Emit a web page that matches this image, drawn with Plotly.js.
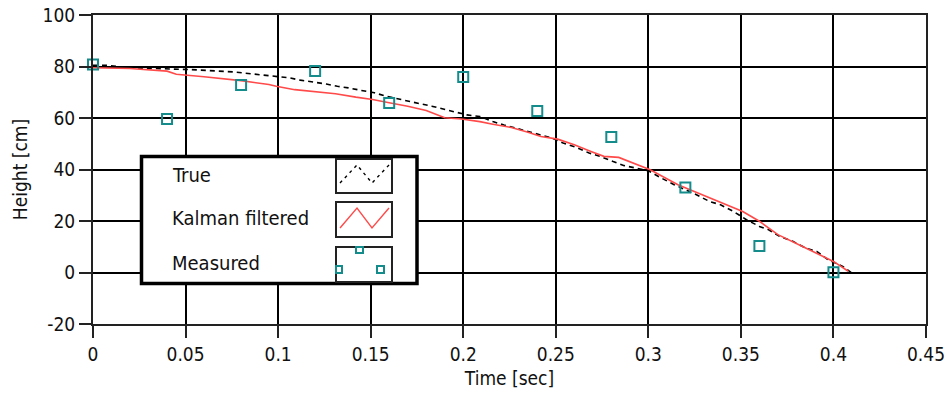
<!DOCTYPE html>
<html>
<head>
<meta charset="utf-8">
<script src="https://cdn.plot.ly/plotly-3.0.1.min.js"></script>
<style>html,body{margin:0;padding:0;background:#fff;}#chart{width:947px;height:394px;}</style>
</head>
<body>
<div id="chart"></div>
<script>
// ---- data ----
const trueTime = [0.000,0.007,0.020,0.053,0.076,0.093,0.106,0.112,0.119,0.126,0.132,0.138,0.145,0.152,0.158,0.165,0.170,0.177,0.183,0.190,0.197,0.202,0.209,0.216,0.222,0.228,0.235,0.241,0.248,0.254,0.261,0.268,0.274,0.281,0.287,0.293,0.300,0.307,0.314,0.326,0.333,0.339,0.346,0.353,0.360,0.365,0.371,0.378,0.385,0.391,0.397,0.405,0.411];
const trueHeight = [80.5,80.5,79.5,78.8,77.9,76.6,75.6,74.7,74.0,73.2,72.3,71.7,70.7,69.8,68.5,67.5,66.5,65.5,64.6,63.3,62.3,61.2,60.6,58.6,57.3,56.1,55.0,53.5,52.2,50.3,48.6,46.4,45.1,43.1,41.5,40.6,39.5,36.7,34.1,30.2,27.6,26.3,23.7,20.5,17.9,16.6,14.0,12.1,9.5,8.2,5.0,2.4,-0.8];

const kalmanTime = [0.000,0.020,0.040,0.045,0.060,0.080,0.095,0.099,0.109,0.120,0.131,0.142,0.151,0.160,0.170,0.180,0.190,0.199,0.209,0.216,0.226,0.235,0.242,0.251,0.260,0.269,0.276,0.284,0.292,0.301,0.316,0.335,0.351,0.360,0.370,0.385,0.400,0.408];
const kalmanHeight = [79.5,79.2,78.2,77.0,76.0,74.5,73.0,72.3,71.0,70.1,69.4,68.1,67.2,65.9,64.6,62.9,60.1,59.6,58.6,57.6,56.3,54.5,52.8,51.8,49.6,47.0,45.1,44.7,42.5,39.9,34.1,28.3,23.7,19.9,14.7,9.5,4.3,0.5];

const measuredTime = [0.00,0.04,0.08,0.12,0.16,0.20,0.24,0.28,0.32,0.36,0.40];
const measuredHeight = [80.8,59.6,72.8,78.3,65.8,75.9,62.7,52.6,33.0,10.3,0.1];

const xTickVals = [0,0.05,0.1,0.15,0.2,0.25,0.3,0.35,0.4,0.45];
const xTickText = ["0","0.05","0.1","0.15","0.2","0.25","0.3","0.35","0.4","0.45"];
const yTickVals = [-20,0,20,40,60,80,100];
const yTickText = ["-20","0","20","40","60","80","100"];
const legendLabels = ["True","Kalman filtered","Measured"];

// ---- styling / layout ----
const FONT = "'DejaVu Sans Condensed', 'DejaVu Sans', sans-serif";
const W = 947, H = 394, ML = 93, MR = 21, MT = 15, MB = 70;
const PW = W - ML - MR, PH = H - MT - MB;
const px = v => (v - ML) / PW;           // pixel x -> paper x
const py = v => (H - MB - v) / PH;       // pixel y -> paper y
const TEAL = '#148c8c', RED = '#ff4a4a';

const traces = [
  {x: trueTime, y: trueHeight, mode: 'lines', name: legendLabels[0],
   line: {color: '#000', width: 1.6, dash: '5px,4px'}},
  {x: kalmanTime, y: kalmanHeight, mode: 'lines', name: legendLabels[1],
   line: {color: RED, width: 1.6}},
  {x: measuredTime, y: measuredHeight, mode: 'markers', name: legendLabels[2],
   marker: {symbol: 'square-open', size: 10, color: TEAL, line: {width: 2, color: TEAL}},
   cliponaxis: false}
];

function rect(x0, y0, x1, y1, lw, lc, fill) {
  return {type: 'rect', xref: 'paper', yref: 'paper', x0: px(x0), x1: px(x1), y0: py(y1), y1: py(y0),
          line: {width: lw, color: lc}, fillcolor: fill || 'rgba(0,0,0,0)', layer: 'above'};
}
function path(pts, lc, lw, dash) {
  const d = pts.map((p, i) => (i ? 'L' : 'M') + px(p[0]) + ',' + py(p[1])).join(' ');
  return {type: 'path', xref: 'paper', yref: 'paper', path: d, line: {color: lc, width: lw, dash: dash || 'solid'}, layer: 'above'};
}

const shapes = [
  rect(141.5, 156.5, 417, 283.5, 3.5, '#000', '#fff'),
  rect(336, 159, 392, 193, 2, '#222', '#fff'),
  rect(336, 202, 392, 237, 2, '#222', '#fff'),
  rect(336, 247, 392, 282, 2, '#222', '#fff'),
  path([[340,183],[357,165],[372,183],[389,165]], '#000', 1.4, '3px,4px'),
  path([[340,228],[357,208],[372,228],[389,208]], RED, 1.4),
  rect(356, 247, 363, 253, 2, TEAL),
  rect(336, 266, 342, 273, 2, TEAL),
  rect(377, 266, 384, 273, 2, TEAL)
];

const annotations = [175, 218, 263].map((yy, i) => ({
  xref: 'paper', yref: 'paper', x: px(170), y: py(yy), xanchor: 'left', yanchor: 'middle',
  text: legendLabels[i], showarrow: false, font: {family: FONT, size: 20, color: '#111'}
}));

const layout = {
  width: W, height: H,
  margin: {l: ML, r: MR, t: MT, b: MB, pad: 0},
  paper_bgcolor: '#fff', plot_bgcolor: '#fff',
  showlegend: false,
  font: {family: FONT, size: 19, color: '#111'},
  xaxis: {
    range: [0, 0.45], tickvals: xTickVals, ticktext: xTickText,
    showgrid: true, gridcolor: '#000', gridwidth: 2,
    zeroline: false, showline: true, linecolor: '#222', linewidth: 2, mirror: true,
    ticks: 'outside', ticklen: 12, tickwidth: 2, tickcolor: '#222',
    tickfont: {family: FONT, size: 19, color: '#111'},
    title: {text: 'Time [sec]', font: {family: FONT, size: 19, color: '#111'}, standoff: 8}
  },
  yaxis: {
    range: [-20, 100], tickvals: yTickVals, ticktext: yTickText,
    showgrid: true, gridcolor: '#000', gridwidth: 2,
    zeroline: false, showline: true, linecolor: '#222', linewidth: 2, mirror: true,
    ticks: 'outside', ticklen: 12, tickwidth: 2, tickcolor: '#222',
    tickfont: {family: FONT, size: 19, color: '#111'},
    title: {text: 'Height [cm]', font: {family: FONT, size: 19, color: '#111'}, standoff: 10}
  },
  shapes: shapes,
  annotations: annotations
};

Plotly.newPlot('chart', traces, layout, {displayModeBar: false, staticPlot: true});
</script>
</body>
</html>
